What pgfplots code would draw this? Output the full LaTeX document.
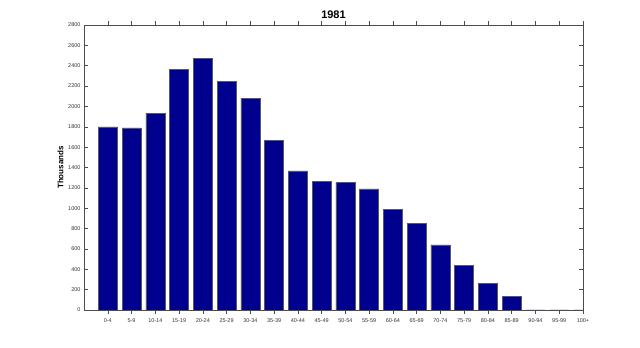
\documentclass[border=0pt]{standalone}
\usepackage{pgfplots}
\pgfplotsset{compat=1.18}
\usepackage{fontspec}
\setmainfont{Liberation Sans}
\definecolor{barblue}{rgb}{0,0,0.5625}
\begin{document}
\begin{tikzpicture}[x=1pt,y=1pt]
\useasboundingbox (0,0) rectangle (640,348);
\begin{axis}[
  at={(84pt,38pt)}, anchor=south west,
  scale only axis, width=499pt, height=285pt,
  xmin=0, xmax=21, ymin=0, ymax=2800,
  xtick={1,...,21},
  xticklabels={0-4,5-9,10-14,15-19,20-24,25-29,30-34,35-39,40-44,45-49,50-54,55-59,60-64,65-69,70-74,75-79,80-84,85-89,90-94,95-99,100+},
  ytick={0,200,...,2800},
  tick align=inside,
  major tick length=4pt,
  axis line style={gray!60!black, line width=0.6pt},
  tick style={gray!60!black, line width=0.5pt},
  /pgf/number format/assume math mode=true,
  /pgf/number format/1000 sep={},
  tick label style={font=\fontsize{5.5}{6}\selectfont, text=black!80},
  xticklabel style={yshift=-1pt},
  title={\textbf{1981}},
  title style={font=\fontsize{11}{12}\selectfont, yshift=-3pt},
  ylabel={\textbf{Thousands}},
  ylabel style={font=\fontsize{8}{9}\selectfont, yshift=-2pt},
  ybar, bar width=0.8, bar shift=0pt,
]
\addplot[fill=barblue, draw=gray!70!black, line width=0.5pt] coordinates {
(1,1800) (2,1790) (3,1933) (4,2365) (5,2474) (6,2247) (7,2080) (8,1670)
(9,1368) (10,1262) (11,1254) (12,1190) (13,989) (14,852) (15,641)
(16,439) (17,262) (18,134) (19,0) (20,0) (21,0)
};
\end{axis}
\end{tikzpicture}
\end{document}
